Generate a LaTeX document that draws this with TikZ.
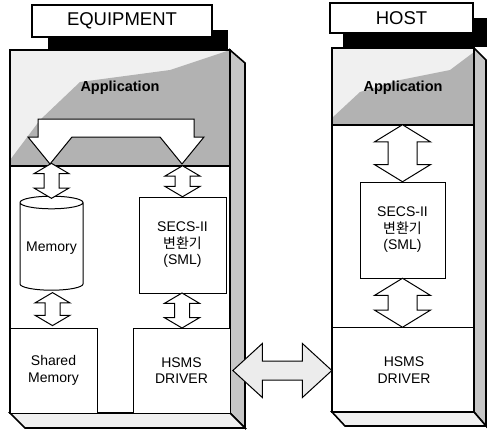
\documentclass[tikz,border=0pt]{standalone}
\usepackage{fontspec}
\setmainfont{Liberation Sans}
\newfontfamily\kor{Noto Sans CJK KR}
\usetikzlibrary{shapes.arrows,shapes.geometric,calc,positioning}

\begin{document}
\begin{tikzpicture}[x=1pt,y=-1pt,
    lbl/.style={align=center,font=\fontsize{14}{16.5}\selectfont},
    unit/.style={draw,line width=1pt,fill=white,lbl,inner sep=0pt},
    tab/.style={draw,line width=1.2pt,fill=white,inner sep=0pt,
      font=\fontsize{18.5}{20}\selectfont},
    body/.style={draw,line width=1.6pt,inner sep=0pt},
    side/.style={fill=gray!45,draw,line width=1.6pt},
    base/.style={fill=gray!12,draw,line width=1.6pt},
    fat/.style={double arrow,draw,line width=1pt,fill=white,
      inner ysep=0pt,minimum width=0pt,shape border rotate=90},
    apptext/.style={font=\fontsize{14.5}{16}\selectfont\bfseries}]

   \useasboundingbox (0,0) rectangle (487,429);

   % EQUIPMENT
   \fill[black] (48,30) rectangle (228,50);
   \node[tab,minimum width=180pt,minimum height=32pt] (eqtitle) at (122,21) {EQUIPMENT};
   \draw[side] (230,50) -- (245,63) -- (245,428) -- (230,413) -- cycle;
   \draw[base] (10,413) -- (230,413) -- (245,428) -- (25,428) -- cycle;
   \fill[gray!12] (10,50) rectangle (230,166);
   \fill[gray!60] (10,160) -- (40,120) -- (80,82) -- (170,70) -- (230,50)
      -- (230,166) -- (10,166) -- cycle;
   \node[body,minimum width=220pt,minimum height=363pt] (eqbody) at (120,231.5) {};
   \coordinate (eqsep) at (10,166);
   \draw[line width=1.6pt] (eqsep) -- (eqsep -| eqbody.east);
   \node[apptext] (eqapp) at (120,88) {Application};
   \draw[line width=1pt,fill=white] (38,119) -- (194,119) -- (194,137) -- (204,137)
      -- (182,164) -- (160,137) -- (72,137) -- (50,164) -- (28,137) -- (38,137) -- cycle;

   \node[cylinder,shape border rotate=90,draw,line width=1pt,fill=white,lbl,
     minimum height=94pt,minimum width=63pt,aspect=0.22] (eqmem) at (51.5,248) {Memory};
   \node[unit,minimum width=87pt,minimum height=96pt] (eqsecs) at (182.5,245)
     {SECS-II\\{\kor 변환기}\\(SML)};
   \node[unit,minimum width=87pt,minimum height=85pt] (eqshm) at (53.5,370.5)
     {Shared\\Memory};
   \node[unit,minimum width=97pt,minimum height=85pt] (eqhsms) at (181.5,370.5)
     {HSMS\\DRIVER};

   % HOST
   \fill[black] (343,18) rectangle (487,47);
   \node[tab,minimum width=143pt,minimum height=30pt] (hosttitle) at (401.5,18) {HOST};
   \draw[side] (474,48) -- (486,60) -- (486,426) -- (474,412) -- cycle;
   \draw[base] (332,412) -- (474,412) -- (486,426) -- (345,426) -- cycle;
   \fill[gray!12] (332,48) rectangle (474,125);
   \fill[gray!60] (332,118) -- (360,92) -- (400,80) -- (450,70) -- (474,52)
      -- (474,125) -- (332,125) -- cycle;
   \node[body,minimum width=142pt,minimum height=364pt] (hostbody) at (403,230) {};
   \coordinate (hostsep) at (332,125);
   \coordinate (hostlow) at (332,327);
   \draw[line width=1.6pt] (hostsep) -- (hostsep -| hostbody.east);
   \draw[line width=1pt] (hostlow) -- (hostlow -| hostbody.east);
   \node[apptext] (hostapp) at (403,88) {Application};
   \node[unit,minimum width=85pt,minimum height=96pt] (hostsecs) at (402.5,230)
     {SECS-II\\{\kor 변환기}\\(SML)};
   \node[lbl] (hosthsms) at (404,370) {HSMS\\DRIVER};

   % block arrows
   \node[fat,inner xsep=7pt,double arrow head extend=10pt,double arrow tip angle=119,
     minimum height=35pt] (a1) at ($(eqmem.top)!.5!(eqmem.top |- eqsep)$) {};
   \node[fat,inner xsep=7pt,double arrow head extend=10pt,double arrow tip angle=119,
     minimum height=31pt] (a2) at ($(eqsecs.north)!.5!(eqsecs.north |- eqsep)$) {};
   \node[fat,inner xsep=7pt,double arrow head extend=10pt,double arrow tip angle=119,
     minimum height=33pt] (a3) at ($(eqmem.bottom)!.5!(eqshm.north)$) {};
   \node[fat,inner xsep=7pt,double arrow head extend=10pt,double arrow tip angle=119,
     minimum height=35pt] (a4) at ($(eqsecs.south)!.5!(eqhsms.north)$) {};
   \node[fat,inner xsep=14pt,double arrow head extend=13.5pt,double arrow tip angle=117,
     minimum height=57pt] (a5) at ($(hostsecs.north)!.5!(hostsecs.north |- hostsep)$) {};
   \node[fat,inner xsep=14pt,double arrow head extend=13.5pt,double arrow tip angle=117,
     minimum height=49pt] (a6) at ($(hostsecs.south)!.5!(hostsecs.south |- hostlow)$) {};
   \node[fat,fill=gray!15,shape border rotate=0,inner xsep=0pt,inner ysep=9pt,
     double arrow head extend=17.5pt,double arrow tip angle=85,minimum height=99pt] (link)
     at ($(eqhsms.east)!.5!(hostbody.west |- eqhsms)+(1.5,0)$) {};
\end{tikzpicture}
\end{document}
